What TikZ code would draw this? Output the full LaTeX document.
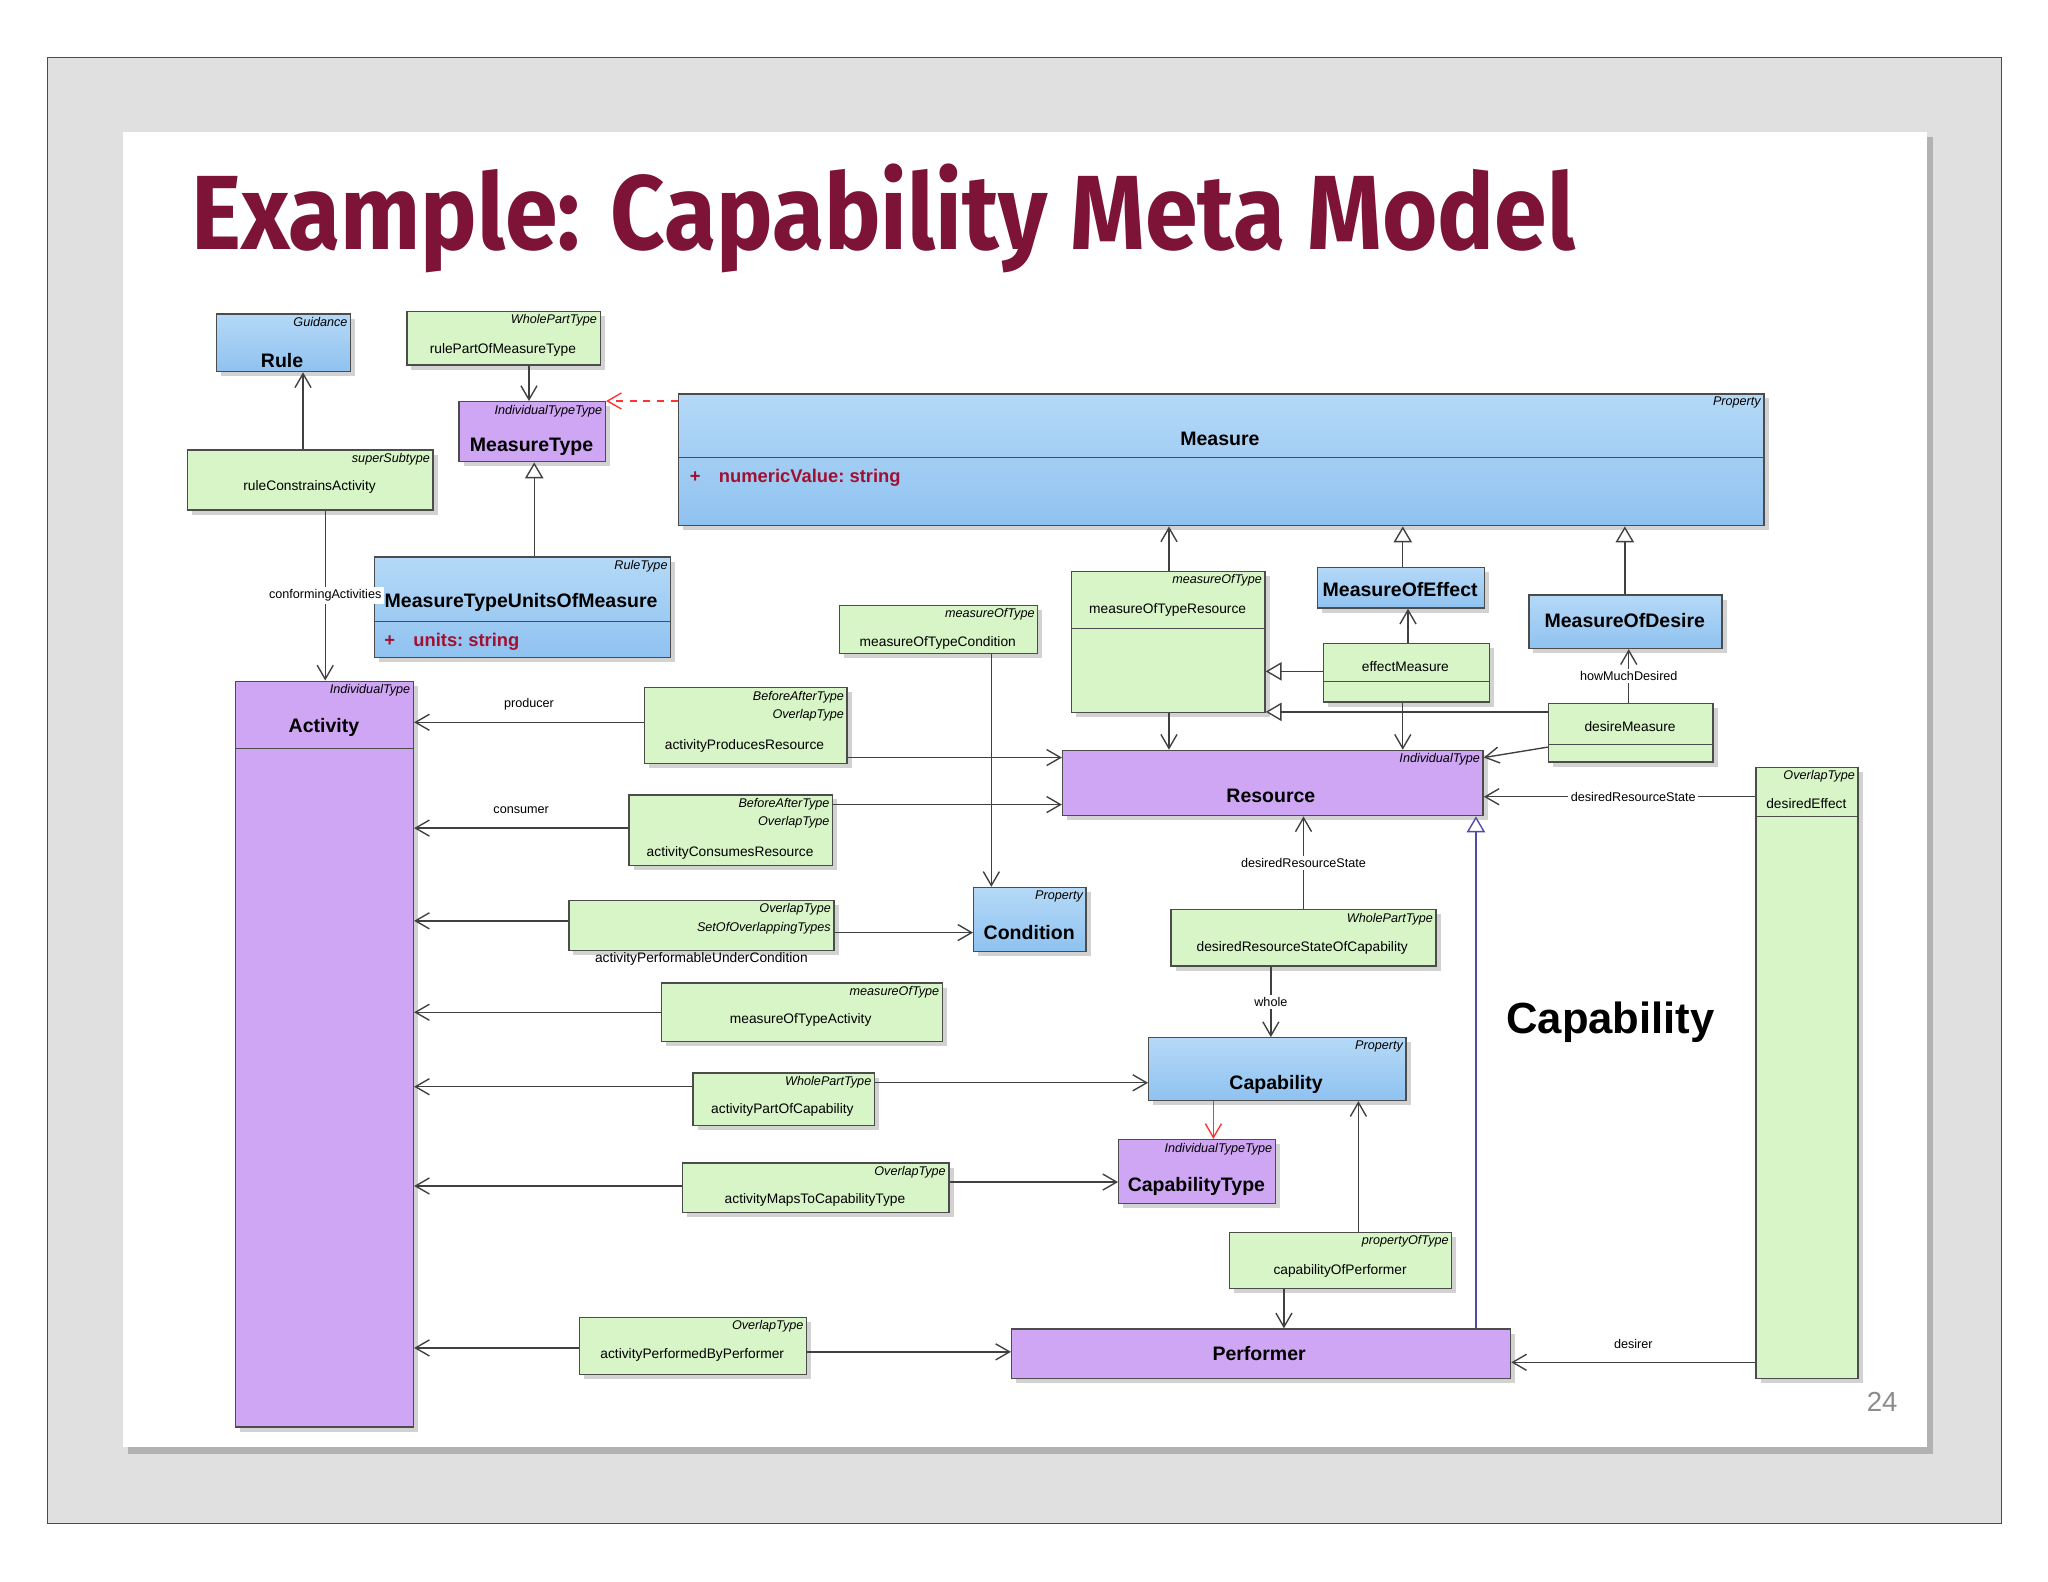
\documentclass[tikz,border=0pt]{standalone}
\usepackage{fontspec}
\setmainfont{Liberation Sans}
\newfontfamily\titlefont{Fira Sans}
\usetikzlibrary{arrows.meta,shadows}
\definecolor{gbox}{HTML}{D8F5C8}
\definecolor{bboxt}{HTML}{B5D9F7}
\definecolor{bboxb}{HTML}{8FC2F0}
\definecolor{pbox}{HTML}{CFA6F4}
\definecolor{ttl}{HTML}{7D1438}
\definecolor{attr}{HTML}{A01030}
\tikzset{
 base/.style={draw=black!70, line width=0.6pt, inner sep=0pt, drop shadow={shadow xshift=2pt, shadow yshift=-2pt, fill=black!35}},
 G/.style={base, fill=gbox},
 B/.style={base, top color=bboxt, bottom color=bboxb},
 P/.style={base, fill=pbox},
 st/.style={font=\fontsize{5.5}{6}\selectfont\itshape, anchor=north east, inner sep=1.5pt},
 tt/.style={font=\fontsize{6}{7}\selectfont, inner sep=0pt},
 tb/.style={font=\fontsize{8.5}{9}\selectfont\bfseries, inner sep=0pt},
 lb/.style={font=\fontsize{5.5}{6}\selectfont, fill=white, inner sep=1pt},
 con/.style={draw=black!75, line width=0.6pt, -{Straight Barb[angle=60:7pt]}},
 gen/.style={draw=black!75, line width=0.6pt, -{Triangle[open, angle=60:8pt, fill=white]}},
}
% name x1 y1 x2 y2 style stereo
\newcommand\cls[7]{\node[#6, anchor=north west, minimum width={(#4-#2)*0.02cm}, minimum height={(#5-#3)*0.02cm}] (#1) at (#2,#3) {};
 \node[st] (#1s) at (#1.north east) {#7};}
\newcommand\sepl[2]{\draw[black!70, line width=0.5pt] (#1.west |- 0,#2) -- (#1.east |- 0,#2);}
\begin{document}
\begin{tikzpicture}[x=0.02cm, y=-0.02cm]
\useasboundingbox (0,0) rectangle (1568,1211);
\fill[white] (0,0) rectangle (1568,1211);
\draw[black!70, fill=black!12] (36,44) rectangle (1532,1166);
\fill[black!30] (98,105) rectangle (1480,1113);
\fill[white] (94,101) rectangle (1475,1108);
\node[font=\titlefont\fontsize{46}{46}\selectfont\bfseries, text=ttl, anchor=west, inner sep=0pt] (title) at (146,167) {\scalebox{0.9}[1]{Example: Capability Meta Model}};

\cls{rule}{165}{240}{268}{284}{B}{Guidance}
\node[tb] (rulet) at (216,276) {Rule};
\cls{rpm}{311}{238}{459}{279}{G}{WholePartType}
\node[tt] (rpmt) at (385,268) {rulePartOfMeasureType};
\cls{mt}{351}{307}{463}{353}{P}{IndividualTypeType}
\node[tb] (mtt) at (407,342) {MeasureType};
\cls{meas}{519}{301}{1350}{402}{B}{Property}
\node[tb] (meast) at (934,336) {Measure};
\sepl{meas}{350}
\node[font=\fontsize{8}{9}\selectfont\bfseries, text=attr, anchor=west] (measa) at (522,366) {+\quad numericValue:\ string};
\cls{rca}{143}{344}{331}{390}{G}{superSubtype}
\node[tt] (rcat) at (237,373) {ruleConstrainsActivity};
\cls{mu}{286}{426}{513}{503}{B}{RuleType}
\node[tb] (mut) at (399,461) {MeasureTypeUnitsOfMeasure};
\sepl{mu}{476}
\node[font=\fontsize{8}{9}\selectfont\bfseries, text=attr, anchor=west] (mua) at (288,491) {+\quad units:\ string};
\cls{mtr}{820}{437}{968}{545}{G}{measureOfType}
\node[tt] (mtrt) at (894,467) {measureOfTypeResource};
\sepl{mtr}{481}
\cls{moe}{1008}{434}{1136}{465}{B}{}
\node[tb] (moet) at (1072,451) {MeasureOfEffect};
\cls{mod}{1170}{455}{1318}{496}{B}{}
\node[tb] (modt) at (1244,475) {MeasureOfDesire};
\cls{em}{1013}{492}{1140}{537}{G}{}
\node[tt] (emt) at (1076,510) {effectMeasure};
\sepl{em}{522}
\cls{dm}{1185}{538}{1311}{583}{G}{}
\node[tt] (dmt) at (1248,556) {desireMeasure};
\sepl{dm}{570}
\cls{mtc}{642}{463}{794}{500}{G}{measureOfType}
\node[tt] (mtct) at (718,492) {measureOfTypeCondition};
\cls{act}{180}{521}{316}{1092}{P}{IndividualType}
\node[tb] (actt) at (248,557) {Activity};
\sepl{act}{573}
\cls{apr}{493}{526}{648}{584}{G}{\shortstack[r]{BeforeAfterType\\OverlapType}}
\node[tt] (aprt) at (570,571) {activityProducesResource};
\cls{res}{813}{574}{1135}{624}{P}{IndividualType}
\node[tb] (rest) at (973,609) {Resource};
\cls{acr}{481}{608}{637}{662}{G}{\shortstack[r]{BeforeAfterType\\OverlapType}}
\node[tt] (acrt) at (559,653) {activityConsumesResource};
\cls{cond}{745}{679}{831}{728}{B}{Property}
\node[tb] (condt) at (788,714) {Condition};
\cls{sot}{435}{689}{638}{727}{G}{\shortstack[r]{OverlapType\\SetOfOverlappingTypes}}
\node[tt] (sotl) at (537,734) {activityPerformableUnderCondition};
\cls{drs}{896}{696}{1099}{739}{G}{WholePartType}
\node[tt] (drst) at (997,726) {desiredResourceStateOfCapability};
\cls{mta}{506}{752}{721}{797}{G}{measureOfType}
\node[tt] (mtat) at (613,781) {measureOfTypeActivity};
\cls{cap}{879}{794}{1076}{842}{B}{Property}
\node[tb] (capt) at (977,830) {Capability};
\cls{apc}{530}{821}{669}{861}{G}{WholePartType}
\node[tt] (apct) at (599,850) {activityPartOfCapability};
\cls{ct}{856}{872}{976}{921}{P}{IndividualTypeType}
\node[tb] (ctt) at (916,908) {CapabilityType};
\cls{amc}{522}{890}{726}{928}{G}{OverlapType}
\node[tt] (amct) at (624,919) {activityMapsToCapabilityType};
\cls{cop}{941}{943}{1111}{986}{G}{propertyOfType}
\node[tt] (copt) at (1026,973) {capabilityOfPerformer};
\cls{apb}{443}{1008}{617}{1052}{G}{OverlapType}
\node[tt] (apbt) at (530,1037) {activityPerformedByPerformer};
\cls{perf}{774}{1017}{1156}{1055}{P}{}
\node[tb] (perft) at (964,1036) {Performer};
\cls{de}{1344}{587}{1422}{1055}{G}{OverlapType}
\node[tt] (det) at (1383,615) {desiredEffect};
\sepl{de}{625}
\node[font=\fontsize{19}{20}\selectfont\bfseries] (bigcap) at (1233,783) {Capability};
\node[font=\fontsize{12}{12}\selectfont, text=black!45] (pg) at (1441,1073) {24};

% connectors
\draw[con] (rpm.south -| 405,0) -- (mt.north -| 405,0);
\draw[con] (rca.north -| 232,0) -- (rule.south -| 232,0);
\draw[con] (rca.south -| 249,0) -- node[lb]{conformingActivities} (act.north -| 249,0);
\draw[gen] (mu.north -| 409,0) -- (mt.south -| 409,0);
\draw[red!80, dashed, line width=0.6pt, -{Straight Barb[angle=60:7pt]}] (meas.west |- 0,307) -- (mt.east |- 0,307);
\draw[con] (mtr.north -| 895,0) -- (meas.south -| 895,0);
\draw[gen] (moe.north -| 1074,0) -- (meas.south -| 1074,0);
\draw[gen] (mod.north -| 1244,0) -- (meas.south -| 1244,0);
\draw[con] (em.north -| 1078,0) -- (moe.south -| 1078,0);
\draw[gen] (em.west |- 0,514) -- (mtr.east |- 0,514);
\draw[gen] (dm.west |- 0,545) -- (mtr.east |- 0,545);
\draw[con] (dm.north -| 1247,0) -- node[lb]{howMuchDesired} (mod.south -| 1247,0);
\draw[con] (em.south -| 1074,0) -- (res.north -| 1074,0);
\draw[con] (mtr.south -| 895,0) -- (res.north -| 895,0);
\draw[con] (dm.west |- 0,572) -- (res.east |- 0,580);
\draw[con] (de.west |- 0,610) -- node[lb, pos=0.45]{desiredResourceState} (res.east |- 0,610);
\draw[con] (mtc.south -| 759,0) -- (cond.north -| 759,0);
\draw[con] (apr.east |- 0,580) -- (res.west |- 0,580);
\draw[con] (apr.west |- 0,553) -- node[lb, pos=0.5, yshift=8]{producer} (act.east |- 0,553);
\draw[con] (acr.east |- 0,616) -- (res.west |- 0,616);
\draw[con] (acr.west |- 0,634) -- node[lb, pos=0.5, yshift=8]{consumer} (act.east |- 0,634);
\draw[con] (sot.west |- 0,705) -- (act.east |- 0,705);
\draw[con] (sot.east |- 0,714) -- (cond.west |- 0,714);
\draw[con] (mta.west |- 0,775) -- (act.east |- 0,775);
\draw[con] (apc.west |- 0,832) -- (act.east |- 0,832);
\draw[con] (apc.east |- 0,829) -- (cap.west |- 0,829);
\draw[con] (amc.west |- 0,908) -- (act.east |- 0,908);
\draw[con] (amc.east |- 0,905) -- (ct.west |- 0,905);
\draw[con] (apb.west |- 0,1032) -- (act.east |- 0,1032);
\draw[con] (apb.east |- 0,1035) -- (perf.west |- 0,1035);
\draw[con] (drs.north -| 998,0) -- node[lb]{desiredResourceState} (res.south -| 998,0);
\draw[con] (drs.south -| 973,0) -- node[lb]{whole} (cap.north -| 973,0);
\draw[red!80, line width=0.6pt, -{Straight Barb[angle=60:7pt]}] (cap.south -| 929,0) -- (ct.north -| 929,0);
\draw[con] (cop.north -| 1040,0) -- (cap.south -| 1040,0);
\draw[con] (cop.south -| 983,0) -- (perf.north -| 983,0);
\draw[gen, draw=blue!50!black!70] (perf.north -| 1130,0) -- (res.south -| 1130,0);
\draw[con] (de.west |- 0,1043) -- node[lb, pos=0.5, yshift=8]{desirer} (perf.east |- 0,1043);
\end{tikzpicture}
\end{document}
